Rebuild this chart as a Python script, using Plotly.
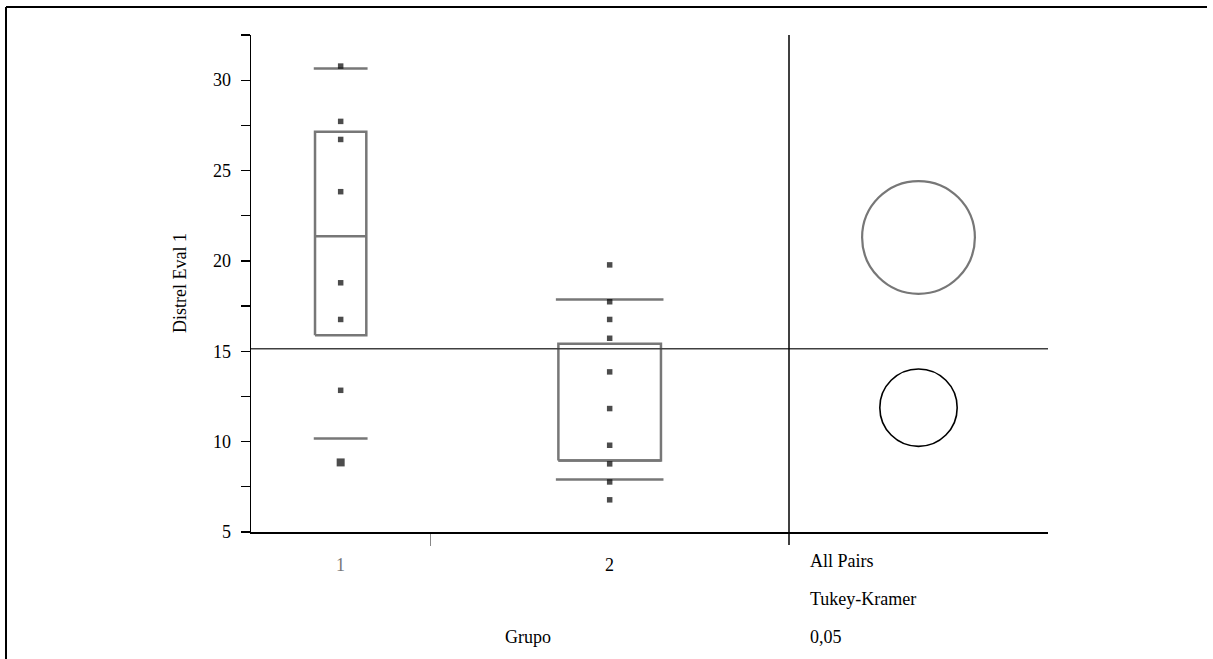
import plotly.graph_objects as go

# ---------------- data ----------------
group_names = ["1", "2"]
group_weights = [1, 2]            # relative group sizes (JMP width ~ n)
group1_values = [30.78, 27.72, 26.72, 23.83, 18.79, 16.76, 12.84, 8.85, 8.85]
group2_values = [19.78, 17.74, 16.76, 15.72, 13.86, 11.83, 9.80, 8.77, 7.77, 6.78]
q10 = [10.18, 7.90]
q25 = [15.89, 8.95]
q50 = [21.37, 8.95]
q75 = [27.15, 15.41]
q90 = [30.64, 17.86]
group_means = [21.30, 11.88]
circle_radii = [3.12, 2.14]
grand_mean = 15.14
y_tick_values = [5, 10, 15, 20, 25, 30]
test_labels = ["All Pairs", "Tukey-Kramer", "0,05"]
x_title = "Grupo"
y_title = "Distrel Eval 1"

# ---------------- layout geometry (pixels) ----------------
W, H = 1213, 659
L, R, T, B = 251, 1048, 35, 532
SPLIT = 789
Y_RANGE = [5, 32.5]
FONT = "Liberation Serif"
GRAY = "#777777"


def px_x(p):
    return (p - L) / (R - L)


def px_y(p):
    return (B - p) / (B - T)


split_frac = px_x(SPLIT)
x_total = sum(group_weights)
starts = [sum(group_weights[:i]) for i in range(len(group_weights))]
centers = [s + w / 2 for s, w in zip(starts, group_weights)]

fig = go.Figure()

# quantile boxes
bx, by = [], []
for i, (c, w) in enumerate(zip(centers, group_weights)):
    hw = 0.143 * w
    ww = 0.15 * w
    bx += [c - hw, c + hw, c + hw, c - hw, c - hw, None]
    by += [q25[i], q25[i], q75[i], q75[i], q25[i], None]
    bx += [c - hw, c + hw, None]
    by += [q50[i], q50[i], None]
    bx += [c - ww, c + ww, None, c - ww, c + ww, None]
    by += [q10[i], q10[i], None, q90[i], q90[i], None]
fig.add_trace(go.Scatter(x=bx, y=by, mode="lines", xaxis="x", yaxis="y",
                         line=dict(color=GRAY, width=2.5), hoverinfo="skip",
                         showlegend=False))

# points
for vals, c in zip([group1_values, group2_values], centers):
    uniq = []
    for v in vals:
        if v not in uniq:
            uniq.append(v)
    sizes = [5.5 if vals.count(v) == 1 else 8 for v in uniq]
    fig.add_trace(go.Scatter(x=[c] * len(uniq), y=uniq, mode="markers",
                             xaxis="x", yaxis="y",
                             marker=dict(symbol="square", size=sizes, color="black",
                                         line=dict(width=0)),
                             showlegend=False))

# invisible trace to activate x2
fig.add_trace(go.Scatter(x=[0], y=[grand_mean], mode="markers", xaxis="x2", yaxis="y",
                         marker=dict(opacity=0), hoverinfo="skip", showlegend=False))

shapes = []
# grand mean line
shapes.append(dict(type="line", xref="paper", yref="y", x0=0, x1=1,
                   y0=grand_mean, y1=grand_mean, line=dict(color="#404040", width=1.5)))
# separator between groups and circles
shapes.append(dict(type="line", xref="paper", yref="paper", x0=split_frac, x1=split_frac,
                   y0=px_y(545), y1=1, line=dict(color="black", width=1.5)))

# comparison circles (x2 scale equal to y scale)
px_per_unit = (B - T) / (Y_RANGE[1] - Y_RANGE[0])
x2_span = (R - SPLIT) / px_per_unit
circle_colors = [GRAY, "black"]
circle_widths = [2.2, 1.6]
for m, r, col, lw in zip(group_means, circle_radii, circle_colors, circle_widths):
    shapes.append(dict(type="circle", xref="x2", yref="y", x0=-r, x1=r,
                       y0=m - r, y1=m + r, line=dict(color=col, width=lw)))

# outer frame (top and left)
shapes.append(dict(type="line", xref="paper", yref="paper", x0=px_x(6), x1=px_x(1207),
                   y0=px_y(7), y1=px_y(7), line=dict(color="black", width=2)))
shapes.append(dict(type="line", xref="paper", yref="paper", x0=px_x(6), x1=px_x(6),
                   y0=px_y(7), y1=px_y(H + 5), line=dict(color="black", width=2)))

annotations = []
label_colors = [GRAY, "black"]
for name, c, col in zip(group_names, centers, label_colors):
    annotations.append(dict(x=c, xref="x", y=px_y(565), yref="paper", text=name,
                            showarrow=False, xanchor="center", yanchor="middle",
                            font=dict(family=FONT, size=18, color=col)))
for txt, ypx in zip(test_labels, [561, 599, 637]):
    annotations.append(dict(x=px_x(808), xref="paper", y=px_y(ypx), yref="paper", text=txt,
                            showarrow=False, xanchor="left", yanchor="middle",
                            font=dict(family=FONT, size=18, color="black")))
annotations.append(dict(x=px_x(528), xref="paper", y=px_y(637), yref="paper", text=x_title,
                        showarrow=False, xanchor="center", yanchor="middle",
                        font=dict(family=FONT, size=18, color="black")))
annotations.append(dict(x=px_x(180), xref="paper", y=px_y(283), yref="paper", text=y_title,
                        showarrow=False, xanchor="center", yanchor="middle", textangle=-90,
                        font=dict(family=FONT, size=18, color="black")))

fig.update_layout(
    width=W, height=H,
    margin=dict(l=L, r=W - R, t=T, b=H - B, pad=0),
    paper_bgcolor="white", plot_bgcolor="white",
    showlegend=False,
    xaxis=dict(domain=[0, split_frac], range=[0, x_total], anchor="y",
               showline=True, linecolor="black", linewidth=1.5,
               tickvals=starts[1:], ticktext=[""] * (len(starts) - 1),
               ticks="outside", ticklen=12, tickcolor="#888888", tickwidth=1,
               showgrid=False, zeroline=False, fixedrange=True),
    xaxis2=dict(domain=[split_frac, 1], range=[-x2_span / 2, x2_span / 2], anchor="y",
                showline=True, linecolor="black", linewidth=1.5,
                showticklabels=False, ticks="", showgrid=False, zeroline=False),
    yaxis=dict(range=Y_RANGE, anchor="x", showline=True, linecolor="black", linewidth=1.5,
               tickvals=y_tick_values, ticks="outside", ticklen=9, tickcolor="black",
               tickwidth=1.2, ticklabelstandoff=6,
               minor=dict(ticks="outside", ticklen=9, dtick=2.5, tick0=5,
                          tickcolor="black", tickwidth=1.2),
               tickfont=dict(family=FONT, size=18, color="black"),
               showgrid=False, zeroline=False),
    shapes=shapes,
    annotations=annotations,
)

fig.write_html("out.html",
               config={"displayModeBar": False, "staticPlot": True},
               post_script="document.body.style.margin='0';document.body.style.padding='0';")
